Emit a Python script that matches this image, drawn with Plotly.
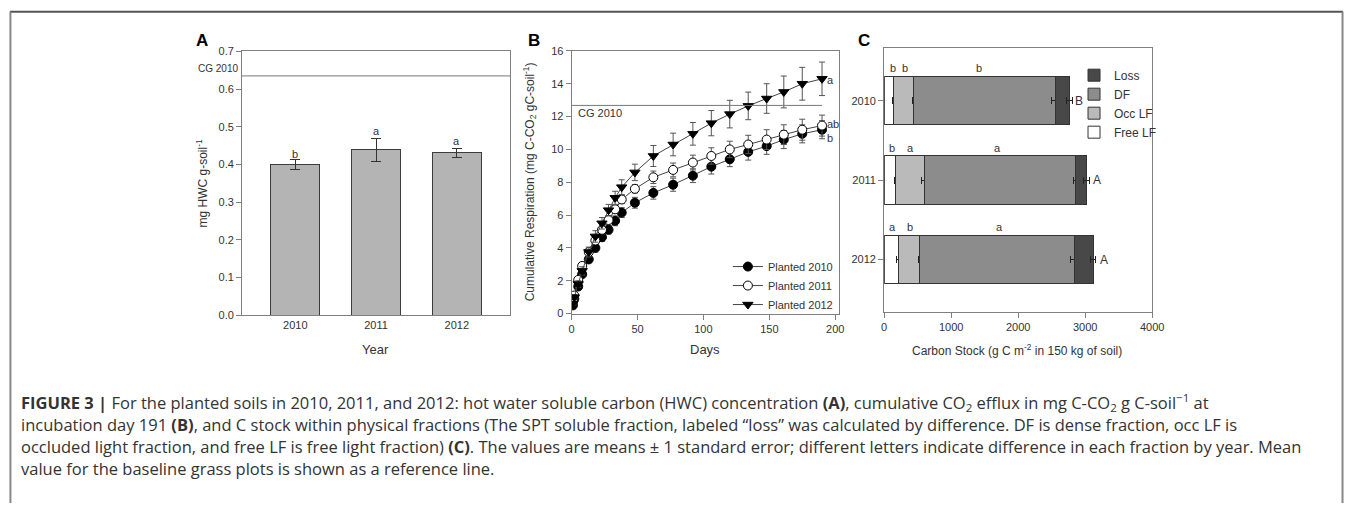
import plotly.graph_objects as go

W, H = 1357, 509

# ---------------- Panel A: hot water soluble carbon ----------------
years = ["2010", "2011", "2012"]
hwc_mean = [0.399, 0.439, 0.431]
hwc_se = [0.013, 0.031, 0.012]
hwc_letters = ["b", "a", "a"]
hwc_letter_y = [0.427, 0.490, 0.461]
hwc_cg2010 = 0.635

# ---------------- Panel B: cumulative respiration ----------------
days = [1, 2, 5, 8, 13, 18, 23, 28, 33, 38, 48, 62, 77, 92, 106, 120, 134, 148, 161, 175, 190]
resp_2010 = [0.5, 0.9, 1.65, 2.4, 3.3, 4.0, 4.65, 5.1, 5.65, 6.15, 6.75, 7.35, 7.85, 8.4, 8.95,
             9.4, 9.85, 10.2, 10.6, 10.95, 11.2]
resp_2010_se = [0.1, 0.1, 0.15, 0.2, 0.2, 0.25, 0.25, 0.25, 0.3, 0.3, 0.33, 0.38, 0.4, 0.42, 0.45,
                0.45, 0.5, 0.5, 0.55, 0.55, 0.55]
resp_2011 = [0.7, 1.1, 2.05, 2.9, 3.75, 4.45, 5.1, 5.7, 6.35, 6.95, 7.6, 8.3, 8.75, 9.2, 9.6,
             10.0, 10.3, 10.6, 10.9, 11.2, 11.45]
resp_2011_se = [0.1, 0.1, 0.15, 0.15, 0.2, 0.2, 0.25, 0.25, 0.25, 0.25, 0.25, 0.38, 0.42, 0.45, 0.5,
                0.5, 0.56, 0.6, 0.6, 0.64, 0.64]
resp_2012 = [0.6, 1.0, 1.8, 2.6, 3.75, 4.7, 5.5, 6.3, 7.05, 7.7, 8.6, 9.6, 10.3, 10.95, 11.6,
             12.15, 12.65, 13.1, 13.5, 14.0, 14.3]
resp_2012_se = [0.1, 0.15, 0.2, 0.25, 0.3, 0.35, 0.35, 0.35, 0.4, 0.45, 0.5, 0.64, 0.69, 0.69, 0.77,
                0.84, 0.84, 0.9, 0.97, 1.0, 1.02]
resp_cg2010 = 12.68
resp_cg_end_day = 190
resp_letters = ["b", "ab", "a"]
resp_letter_y = [10.71, 11.57, 14.24]

# ---------------- Panel C: carbon stock in fractions ----------------
free_lf = [133, 167, 221]
free_lf_se = [10, 10, 40]
occ_lf = [309, 442, 305]
occ_lf_se = [25, 50, 15]
dense_f = [2108, 2251, 2309]
dense_f_se = [50, 40, 50]
loss = [217, 167, 285]
loss_se = [45, 45, 40]
frac_letters = [["b", "b", "b"], ["b", "a", "a"], ["a", "b", "a"]]
frac_letter_x = [[133, 314, 1410], [118, 393, 1690], [118, 388, 1720]]
total_letters = ["B", "A", "A"]
total_letter_x = [2909, 3179, 3278]

FONT = "Liberation Sans, Arial, sans-serif"
CAP_FONT = "Open Sans, Liberation Sans, sans-serif"
AX = "#7f7f7f"
TXT = "#333333"


def fx(px):
    return px / W


def fy(py):
    return 1 - py / H


fig = go.Figure()

# Panel A bars
fig.add_trace(go.Bar(
    x=[0, 1, 2], y=hwc_mean, width=0.61,
    marker=dict(color="#b4b4b4", line=dict(color="#3c3c3c", width=1)),
    error_y=dict(type="data", array=hwc_se, color="#333", thickness=1, width=5),
    xaxis="x", yaxis="y", showlegend=False,
))

# Panel B lines
series_b = [
    ("Planted 2010", resp_2010, resp_2010_se, dict(symbol="circle", color="black", size=9,
                                                    line=dict(color="black", width=1))),
    ("Planted 2011", resp_2011, resp_2011_se, dict(symbol="circle", color="white", size=9,
                                                    line=dict(color="black", width=1))),
    ("Planted 2012", resp_2012, resp_2012_se, dict(symbol="triangle-down", color="black", size=9,
                                                    line=dict(color="black", width=1))),
]
for name, vals, se, mk in series_b:
    fig.add_trace(go.Scatter(
        x=days, y=vals, name=name, mode="lines+markers",
        line=dict(color="#444", width=1), marker=mk,
        error_y=dict(type="data", array=se, color="#555", thickness=1, width=3),
        xaxis="x2", yaxis="y2", legend="legend",
    ))

# Panel C stacked bars
stack_defs = [
    ("Free LF", free_lf, free_lf_se, "#ffffff"),
    ("Occ LF", occ_lf, occ_lf_se, "#bababa"),
    ("DF", dense_f, dense_f_se, "#8c8c8c"),
    ("Loss", loss, loss_se, "#484848"),
]
for name, vals, se, col in stack_defs:
    fig.add_trace(go.Bar(
        y=[0, 1, 2], x=vals, orientation="h", name=name, width=0.61,
        marker=dict(color=col, line=dict(color="#333", width=1)),
        error_x=dict(type="data", array=se, color="#222", thickness=1, width=3.5),
        xaxis="x3", yaxis="y3", legend="legend2",
    ))

annos = []
shapes = []


def ann(**kw):
    kw.setdefault("showarrow", False)
    kw.setdefault("xanchor", "center")
    kw.setdefault("yanchor", "middle")
    annos.append(kw)


# reference lines
shapes.append(dict(type="line", xref="x domain", yref="y", x0=0, x1=1, y0=hwc_cg2010, y1=hwc_cg2010,
                   line=dict(color="#777", width=1)))
shapes.append(dict(type="line", xref="x2", yref="y2", x0=0, x1=resp_cg_end_day, y0=resp_cg2010,
                   y1=resp_cg2010, line=dict(color="#777", width=1)))

ann(text="CG 2010", xref="paper", yref="y", x=fx(240), y=hwc_cg2010, xanchor="right",
    yanchor="bottom", font=dict(size=10, color=TXT, family=FONT))
ann(text="CG 2010", xref="x2", yref="y2", x=3, y=resp_cg2010, xanchor="left",
    yanchor="top", font=dict(size=11, color=TXT, family=FONT))

# letters panel A
for i, (lt, ly) in enumerate(zip(hwc_letters, hwc_letter_y)):
    ann(text=lt, xref="x", yref="y", x=i, y=ly, font=dict(size=11, color=TXT, family=FONT))
# letters panel B
for lt, ly in zip(resp_letters, resp_letter_y):
    ann(text=lt, xref="x2", yref="y2", x=days[-1], y=ly, xanchor="left", xshift=3,
        font=dict(size=11, color=TXT, family=FONT))
# letters panel C
for r in range(3):
    for lt, lx in zip(frac_letters[r], frac_letter_x[r]):
        ann(text=lt, xref="x3", yref="y3", x=lx, y=r - 0.41, font=dict(size=11, color=TXT, family=FONT))
    ann(text=total_letters[r], xref="x3", yref="y3", x=total_letter_x[r], y=r,
        font=dict(size=12, color=TXT, family=FONT))

# panel letters
for lt, px in [("A", 201.5), ("B", 537), ("C", 871)]:
    ann(text=lt, xref="paper", yref="paper", x=fx(px), y=fy(35),
        font=dict(size=17, color="black", family=FONT, weight="bold"))

# axis titles
title_font = dict(size=12, color=TXT, family=FONT)
ann(text="mg HWC g-soil<sup>-1</sup>", xref="paper", yref="paper", x=fx(201.5), y=fy(181.5),
    textangle=-90, font=title_font)
ann(text="Year", xref="paper", yref="paper", x=fx(377), y=fy(352), font=dict(size=13, color=TXT, family=FONT))
ann(text="Cumulative Respiration (mg C-CO<sub>2</sub> gC-soil<sup>-1</sup>)", xref="paper",
    yref="paper", x=fx(533), y=fy(180.5), textangle=-90, font=title_font)
ann(text="Days", xref="paper", yref="paper", x=fx(710), y=fy(352), font=dict(size=13, color=TXT, family=FONT))
ann(text="Carbon Stock (g C m<sup>-2</sup> in 150 kg of soil)", xref="paper", yref="paper",
    x=fx(1025), y=fy(352), font=title_font)

# caption
cap_lines = [
    "<b>FIGURE 3 |</b> For the planted soils in 2010, 2011, and 2012: hot water soluble carbon (HWC) "
    "concentration <b>(A)</b>, cumulative CO<sub>2</sub> efflux in mg C-CO<sub>2</sub> g C-soil<sup>\u22121</sup> at",
    "incubation day 191 <b>(B)</b>, and C stock within physical fractions (The SPT soluble fraction, labeled "
    "\u201closs\u201d was calculated by difference. DF is dense fraction, occ LF is",
    "occluded light fraction, and free LF is free light fraction) <b>(C)</b>. The values are means \u00b1 1 "
    "standard error; different letters indicate difference in each fraction by year. Mean",
    "value for the baseline grass plots is shown as a reference line.",
]
cap_y = [406, 428.5, 451, 473.5]
for t, yy in zip(cap_lines, cap_y):
    ann(text=t, xref="paper", yref="paper", x=fx(16), y=fy(yy), xanchor="left", align="left",
        font=dict(size=16.5, color="#333333", family=CAP_FONT))

# frame
shapes.append(dict(type="line", xref="paper", yref="paper", x0=fx(7), x1=fx(1355), y0=fy(6), y1=fy(6),
                   line=dict(color="#555", width=2)))
shapes.append(dict(type="line", xref="paper", yref="paper", x0=fx(7.5), x1=fx(7.5), y0=fy(6), y1=fy(509),
                   line=dict(color="#888", width=2)))
shapes.append(dict(type="line", xref="paper", yref="paper", x0=fx(1354.5), x1=fx(1354.5), y0=fy(6),
                   y1=fy(509), line=dict(color="#888", width=2)))

tick_font = dict(size=11, color=TXT, family=FONT)
common = dict(showline=True, linecolor=AX, linewidth=1, mirror=True, showgrid=False, zeroline=False,
              tickfont=tick_font, tickcolor=AX, ticklen=5)

fig.update_layout(
    width=W, height=H, margin=dict(l=0, r=0, t=0, b=0),
    paper_bgcolor="white", plot_bgcolor="white", barmode="stack",
    font=dict(family=FONT, color=TXT),
    xaxis=dict(domain=[fx(241.7), fx(512.7)], range=[-0.66, 2.66], tickvals=[0, 1, 2], ticktext=years,
               ticks="", anchor="y", **{k: v for k, v in common.items() if k != "ticklen"}),
    yaxis=dict(domain=[fy(316.7), fy(46.5)], range=[0, 0.7], dtick=0.1, tickformat=".1f",
               ticks="outside", anchor="x", **common),
    xaxis2=dict(domain=[fx(575), fx(845.5)], range=[0, 203], tickvals=[0, 50, 100, 150, 200],
                ticks="outside", anchor="y2", **common),
    yaxis2=dict(domain=[fy(315), fy(46)], range=[0, 16], dtick=2, ticks="outside", anchor="x2", **common),
    xaxis3=dict(domain=[fx(891), fx(1162)], range=[0, 4000], dtick=1000, ticks="outside", anchor="y3",
                **common),
    yaxis3=dict(domain=[fy(313.3), fy(43.3)], range=[2.66, -0.66], tickvals=[0, 1, 2], ticktext=years,
                ticks="outside", anchor="x3", **common),
    legend=dict(x=fx(733), y=fy(252), xanchor="left", yanchor="top", bgcolor="rgba(0,0,0,0)",
                traceorder="normal", font=dict(size=11, color=TXT, family=FONT), borderwidth=0),
    legend2=dict(x=fx(1083), y=fy(56), xanchor="left", yanchor="top", bgcolor="rgba(0,0,0,0)",
                 traceorder="reversed", font=dict(size=12, color=TXT, family=FONT), borderwidth=0),
    annotations=annos, shapes=shapes,
)

fig.write_html("out.html")
